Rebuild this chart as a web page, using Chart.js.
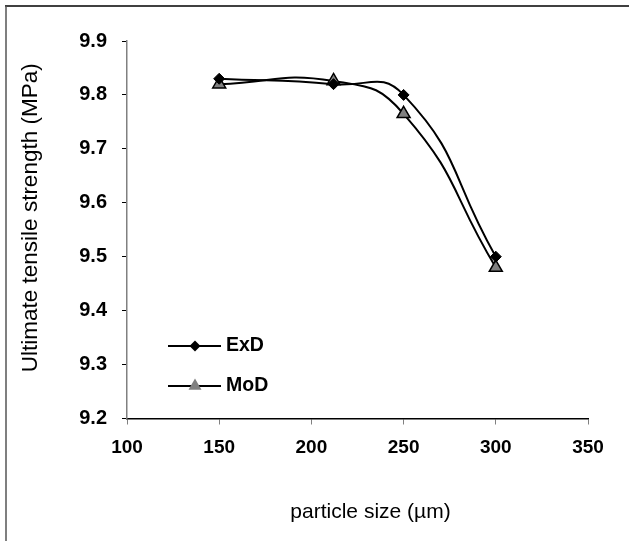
<!DOCTYPE html>
<html>
<head>
<meta charset="utf-8">
<script src="https://cdn.jsdelivr.net/npm/chart.js@4/dist/chart.umd.min.js"></script>
<style>
html,body{margin:0;padding:0;background:#fff;}
#wrap{width:629px;height:541px;position:relative;}
</style>
</head>
<body>
<div id="wrap"><canvas id="c" width="629" height="541"></canvas></div>
<script>
const particleSizes = [150, 212, 250, 300];
const exdValues = [9.83, 9.82, 9.80, 9.50];
const modValues = [9.82, 9.826, 9.765, 9.48];
const seriesNames = ['ExD', 'MoD'];
const xTitle = 'particle size (\u00b5m)';
const yTitle = 'Ultimate tensile strength (MPa)';

const FONT = '"Liberation Sans", Arial, sans-serif';

const toPoints = (xs, ys) => xs.map((x, i) => ({x: x, y: ys[i]}));

const frame = {
  id: 'frame',
  beforeDraw(chart) {
    const ctx = chart.ctx;
    ctx.save();
    ctx.fillStyle = '#fff';
    ctx.fillRect(0, 0, chart.width, chart.height);
    ctx.lineWidth = 1.5;
    ctx.strokeStyle = '#000';
    ctx.beginPath(); ctx.moveTo(5, 6); ctx.lineTo(chart.width, 6); ctx.stroke();
    ctx.strokeStyle = '#555';
    ctx.beginPath(); ctx.moveTo(6, 6); ctx.lineTo(6, chart.height); ctx.stroke();
    ctx.restore();
  }
};

const axisTitles = {
  id: 'axisTitles',
  afterDraw(chart) {
    const ctx = chart.ctx;
    const a = chart.chartArea;
    ctx.save();
    ctx.fillStyle = '#000';
    ctx.textAlign = 'center';
    ctx.textBaseline = 'middle';
    ctx.font = '21px ' + FONT;
    ctx.fillText(xTitle, (a.left + a.right) / 2 + 13, 512);
    ctx.translate(31, (a.top + a.bottom) / 2 - 12);
    ctx.rotate(-Math.PI / 2);
    ctx.font = '22.5px ' + FONT;
    ctx.fillText(yTitle, 0, 0);
    ctx.restore();
  }
};

const insideLegend = {
  id: 'insideLegend',
  afterDraw(chart) {
    const ctx = chart.ctx;
    const ys = [346, 386];
    ctx.save();
    chart.data.datasets.forEach((ds, i) => {
      const y = ys[i];
      ctx.strokeStyle = ds.borderColor;
      ctx.lineWidth = ds.borderWidth;
      ctx.beginPath(); ctx.moveTo(168, y); ctx.lineTo(221, y); ctx.stroke();
      ctx.fillStyle = ds.pointBackgroundColor;
      ctx.strokeStyle = ds.pointBorderColor;
      ctx.lineWidth = ds.pointBorderWidth;
      Chart.helpers.drawPoint(ctx, {pointStyle: ds.pointStyle, radius: ds.pointRadius, rotation: 0}, 195, y);
      ctx.fillStyle = '#000';
      ctx.font = 'bold 19.5px ' + FONT;
      ctx.textBaseline = 'middle';
      ctx.textAlign = 'left';
      ctx.fillText(ds.label, 226, y);
    });
    ctx.restore();
  }
};

new Chart(document.getElementById('c'), {
  type: 'line',
  data: {
    datasets: [
      {
        label: seriesNames[0],
        data: toPoints(particleSizes, exdValues),
        borderColor: '#000', borderWidth: 2,
        pointStyle: 'rectRot', pointRadius: 5.5,
        pointBackgroundColor: '#000', pointBorderColor: '#000', pointBorderWidth: 1,
        tension: 0.5, fill: false
      },
      {
        label: seriesNames[1],
        data: toPoints(particleSizes, modValues),
        borderColor: '#000', borderWidth: 2,
        pointStyle: 'triangle', pointRadius: 7.5,
        pointBackgroundColor: '#808080', pointBorderColor: '#000', pointBorderWidth: 1.5,
        tension: 0.5, fill: false
      }
    ]
  },
  options: {
    responsive: false,
    animation: false,
    layout: {padding: {left: 20, right: 41, top: 41, bottom: 16}},
    plugins: {legend: {display: false}, tooltip: {enabled: false}},
    scales: {
      x: {
        type: 'linear', min: 100, max: 350,
        ticks: {stepSize: 50, color: '#000', font: {family: FONT, size: 19, weight: 'bold'}, padding: 12, maxRotation: 0},
        grid: {drawOnChartArea: false, drawTicks: true, tickLength: 6, color: '#808080'},
        border: {display: true, color: '#000', width: 1.5},
        afterFit(s) { s.height = 106.5; }
      },
      y: {
        type: 'linear', min: 9.2, max: 9.9,
        ticks: {stepSize: 0.1, color: '#000', font: {family: FONT, size: 20, weight: 'bold'}, padding: 15,
          callback: v => Number(v).toFixed(1)},
        grid: {drawOnChartArea: false, drawTicks: true, tickLength: 5, color: '#000'},
        border: {display: true, color: '#808080', width: 1.5},
        afterFit(s) { s.width = 107; }
      }
    }
  },
  plugins: [frame, axisTitles, insideLegend]
});
</script>
</body>
</html>
